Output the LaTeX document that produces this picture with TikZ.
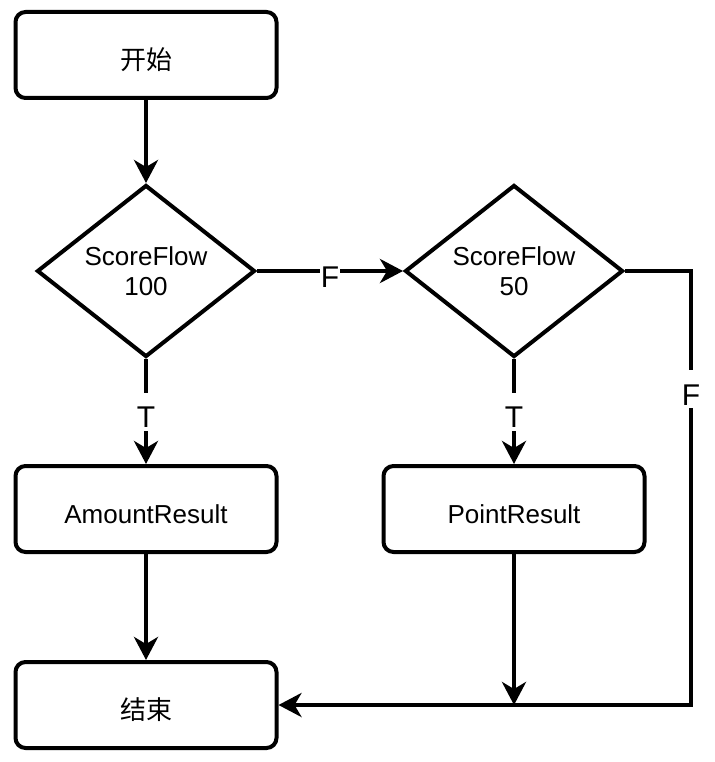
\documentclass[tikz,border=0pt]{standalone}
\usepackage{fontspec}
\setmainfont{Liberation Sans}
\newfontfamily\cjk{Noto Sans CJK SC}
\usetikzlibrary{positioning,shapes.geometric,arrows.meta}
\begin{document}
\begin{tikzpicture}[
  x=1pt, y=1pt,
  block/.style={rectangle, draw, line width=4pt, rounded corners=10pt, minimum width=261pt, minimum height=86pt, text height=29pt, text depth=0pt, font=\fontsize{26}{30}\selectfont, align=center},
  decision/.style={diamond, draw, line width=4pt, inner sep=0pt, aspect=1.27, minimum width=218pt, minimum height=172pt, font=\fontsize{26}{30}\selectfont, align=center},
  flow/.style={line width=4pt, -{Stealth[length=23pt,width=24pt,inset=7pt]}},
  lbl/.style={fill=white, inner xsep=1pt, inner ysep=0pt, text height=35pt, text depth=3pt, font=\fontsize{30}{34}\selectfont},
  node distance=2cm
]
\useasboundingbox (0,0) rectangle (714,-762);

\node[block] (start) at (146,-55) {\cjk 开始};
\node[decision, below of=start, node distance=216pt] (amountcheck) {ScoreFlow\\100};
\node[block, below of=amountcheck, node distance=238pt] (amount) {AmountResult};
\node[block, below of=amount, node distance=196pt] (stop) {\cjk 结束};
\node[decision, right of=amountcheck, node distance=368pt] (pointcheck) {ScoreFlow\\50};
\node[block, below of=pointcheck, node distance=238pt] (point) {PointResult};
\coordinate (join) at (point |- stop);

\draw[flow] (start) -- (amountcheck);
\draw[flow] (amountcheck) -- node[lbl] {F} (pointcheck);
\draw[flow] (amountcheck) -- node[lbl] {T} (amount);
\draw[flow] (pointcheck) -- node[lbl] {T} (point);
\draw[flow] (amount) -- (stop);
\draw[flow] (point) -- (join);
\draw[flow] (pointcheck.east) -- ++(66,0) |- node[lbl, pos=0.136] {F} (stop.east);
\end{tikzpicture}
\end{document}
